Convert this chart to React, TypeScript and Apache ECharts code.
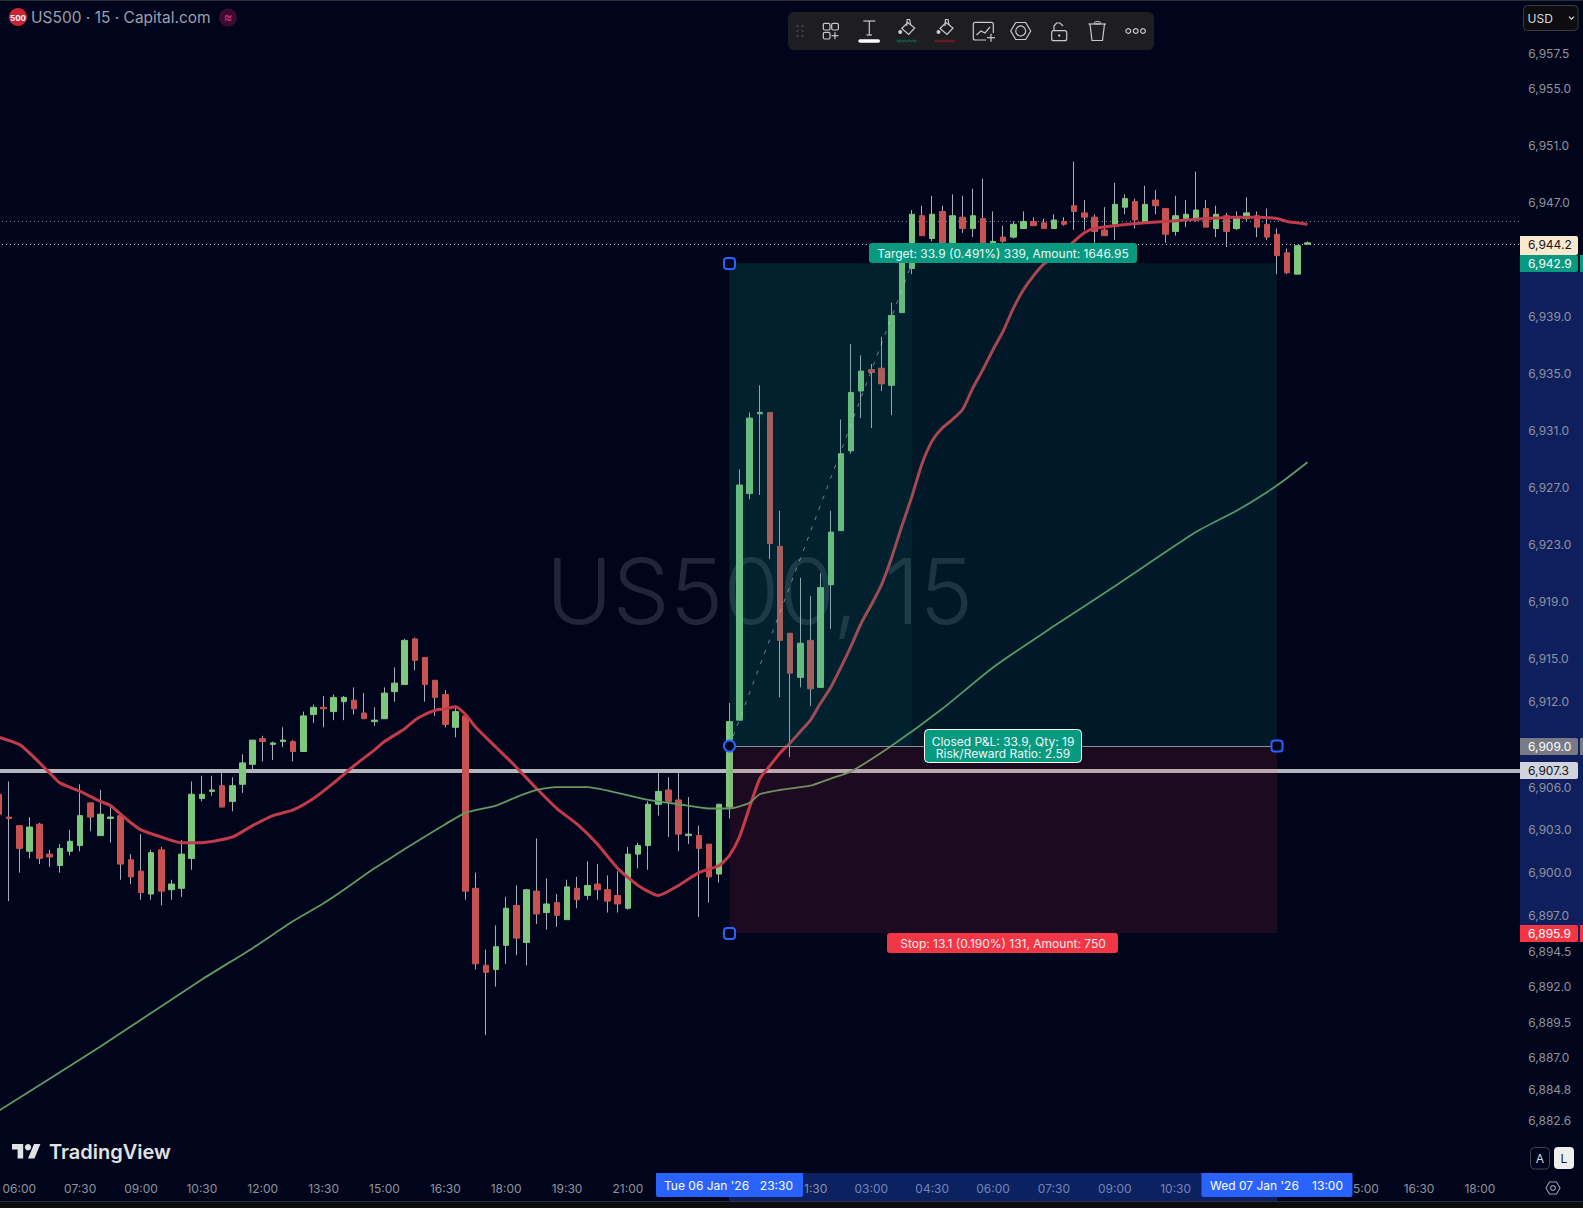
import React, { useEffect, useRef } from "react";
import * as echarts from "echarts";

const startMinutes = 5 * 60 + 30;
const slotCount = 151;
const times: string[] = [];
for (let i = 0; i < slotCount; i++) {
  const m = (startMinutes + i * 15) % 1440;
  times.push(String(Math.floor(m / 60)).padStart(2, "0") + ":" + String(m % 60).padStart(2, "0"));
}
// time labels that the crosshair tags cover in the reference
const coveredTimeBars = [68, 74, 80, 122, 128, 134];

const opens = [
  6905.5,6903.9,6903.3,6901.5,6903.4,6901.3,6900.5,6901.5,6901.9,6904.9,
  6902.6,6903.8,6904.0,6900.9,6900.1,6898.5,6901.6,6898.8,6898.9,6901.0,
  6905.2,6905.7,6906.1,6905.0,6906.2,6907.6,6909.4,6909.0,6909.2,6909.2,
  6908.5,6911.1,6911.6,6911.3,6912.0,6912.1,6911.2,6910.6,6910.8,6912.7,
  6913.2,6916.4,6915.1,6913.5,6912.5,6910.2,6911.0,6898.9,6893.5,6893.2,
  6894.9,6897.7,6895.1,6898.7,6897.2,6897.9,6896.7,6898.9,6898.4,6899.2,
  6898.8,6898.4,6897.5,6901.3,6901.9,6904.8,6905.8,6905.1,6902.6,6902.6,
  6902.0,6899.9,6904.6,6910.7,6926.6,6932.2,6932.3,6922.9,6916.8,6913.7,
  6916.3,6913.0,6920.2,6924.0,6929.6,6933.8,6935.3,6935.4,6934.2,6939.3,
  6942.4,6946.1,6944.5,6946.4,6944.0,6946.0,6945.2,6945.9,6944.0,6944.6,
  6944.6,6945.2,6945.7,6945.6,6945.2,6945.7,6946.8,6946.3,6946.0,6945.1,
  6945.5,6946.7,6947.1,6945.7,6947.2,6946.6,6945.0,6945.9,6945.8,6946.6,
  6945.2,6946.1,6945.2,6945.9,6946.1,6945.5,6944.8,6943.5,6942.0,6944.1,
];
const highs = [
  6905.9,6906.4,6903.3,6903.9,6903.5,6901.6,6902.0,6903.0,6906.2,6904.9,
  6905.8,6904.6,6904.1,6901.3,6902.7,6901.6,6901.8,6899.5,6902.3,6906.4,
  6906.8,6906.8,6907.1,6906.7,6908.3,6909.3,6909.6,6909.2,6910.2,6909.3,
  6911.3,6911.8,6912.4,6912.5,6912.4,6913.0,6912.6,6911.6,6913.0,6914.4,
  6916.4,6916.5,6915.1,6913.5,6912.8,6911.7,6911.1,6900.0,6894.6,6896.3,
  6898.3,6899.1,6898.8,6902.4,6899.6,6898.5,6899.5,6899.7,6900.8,6900.6,
  6899.8,6900.1,6901.8,6902.1,6905.0,6907.1,6906.7,6907.0,6905.3,6903.3,
  6902.0,6904.8,6911.9,6928.3,6932.3,6934.2,6932.3,6925.4,6916.8,6920.7,
  6919.4,6921.0,6925.4,6931.8,6937.1,6936.3,6935.7,6937.6,6940.0,6943.2,
  6946.5,6946.8,6947.5,6946.8,6947.6,6947.5,6948.0,6948.7,6946.4,6945.4,
  6945.7,6946.4,6946.0,6945.9,6946.2,6946.0,6949.9,6947.2,6946.2,6946.7,
  6948.4,6947.6,6947.3,6948.2,6947.9,6946.6,6947.5,6947.2,6949.2,6947.2,
  6946.8,6946.3,6946.4,6947.4,6946.4,6946.6,6945.2,6943.8,6944.0,6944.3,
];
const lows = [
  6903.7,6898.0,6900.0,6901.0,6900.6,6900.4,6900.0,6901.2,6901.5,6902.9,
  6902.6,6902.1,6899.5,6899.2,6898.1,6898.1,6897.7,6898.1,6898.3,6900.2,
  6905.0,6905.4,6904.6,6904.3,6905.6,6907.0,6907.8,6907.9,6908.8,6907.8,
  6908.5,6910.5,6910.2,6910.7,6910.7,6911.1,6910.8,6910.3,6910.8,6912.0,
  6913.2,6914.2,6912.0,6911.0,6910.2,6909.5,6898.1,6893.2,6888.6,6892.0,
  6893.6,6894.2,6893.5,6896.4,6896.0,6896.2,6896.7,6897.5,6898.1,6898.1,
  6897.2,6897.2,6897.4,6900.3,6900.2,6904.0,6902.5,6901.5,6902.0,6896.9,
  6897.9,6899.3,6903.8,6910.7,6926.2,6926.5,6922.0,6912.3,6908.1,6913.0,
  6911.7,6913.0,6917.1,6924.0,6929.4,6931.9,6931.2,6933.8,6932.1,6939.3,
  6942.0,6944.7,6944.3,6943.7,6943.9,6944.9,6944.6,6943.9,6943.9,6944.2,
  6944.5,6945.2,6945.4,6945.2,6945.2,6945.4,6945.1,6945.1,6944.2,6944.7,
  6944.4,6946.2,6945.2,6945.7,6946.2,6944.2,6944.7,6945.3,6945.7,6945.3,
  6944.6,6943.9,6945.1,6945.7,6944.6,6944.4,6942.0,6942.0,6942.0,6944.1,
];
const closes = [
  6904.1,6903.8,6901.7,6903.2,6901.0,6901.1,6901.7,6902.2,6904.0,6903.9,
  6904.1,6903.9,6900.6,6899.7,6898.6,6901.4,6898.7,6899.2,6901.3,6905.5,
  6905.5,6905.8,6904.6,6906.1,6907.7,6909.3,6909.2,6909.1,6909.3,6908.5,
  6911.0,6911.6,6911.5,6912.3,6912.3,6911.5,6910.8,6910.7,6912.6,6913.3,
  6916.3,6914.9,6913.2,6912.3,6910.4,6911.3,6898.7,6893.6,6893.0,6894.8,
  6897.5,6895.4,6898.8,6897.1,6897.8,6897.0,6899.0,6898.1,6899.1,6898.8,
  6898.0,6897.8,6901.3,6901.9,6904.8,6905.7,6905.0,6902.7,6902.7,6901.7,
  6899.7,6904.8,6910.6,6927.2,6931.9,6932.3,6923.1,6916.3,6914.0,6916.1,
  6912.9,6920.0,6923.9,6929.4,6933.7,6935.2,6935.1,6934.3,6939.1,6943.0,
  6946.2,6944.7,6946.2,6943.9,6946.1,6945.2,6946.1,6944.0,6944.3,6944.3,
  6945.5,6945.7,6945.4,6945.2,6945.8,6945.5,6946.4,6946.0,6945.0,6944.7,
  6946.9,6947.3,6945.8,6946.9,6946.8,6944.8,6946.1,6946.2,6946.5,6945.3,
  6946.2,6945.0,6945.9,6946.3,6945.3,6944.6,6943.3,6942.1,6944.0,6944.2,
];

// [bar index, value] readings of the two moving averages
const maFastPoints = [
  [0,6909.5],[2,6909.0],[3,6908.4],[5,6907.0],[6,6906.3],[8,6905.7],[10,6905.0],[11,6904.7],[13,6903.5],[14,6903.0],
  [16,6902.5],[18,6902.1],[20,6902.1],[23,6902.5],[25,6903.3],[27,6904.0],[29,6904.4],[31,6905.2],[33,6906.3],[35,6907.5],
  [37,6908.6],[38,6909.2],[40,6910.1],[41,6910.7],[42,6911.1],[43,6911.4],[44,6911.5],[45,6911.65],[46,6911.1],[47,6910.2],
  [49,6908.8],[51,6907.4],[53,6905.9],[55,6904.5],[57,6903.4],[59,6902.0],[61,6900.3],[63,6899.1],[65,6898.4],[67,6899.1],
  [69,6900.0],[71,6900.5],[72,6901.2],[73,6902.5],[74,6904.6],[75,6906.6],[76,6907.5],[77,6908.4],[78,6909.1],[79,6909.9],
  [80,6910.7],[81,6911.9],[82,6913.0],[83,6914.4],[84,6915.9],[85,6917.5],[86,6918.8],[87,6920.2],[88,6922.1],[89,6924.3],
  [90,6926.4],[91,6928.7],[92,6930.3],[93,6931.2],[94,6931.8],[95,6932.5],[96,6934.0],[97,6935.3],[98,6936.7],[99,6938.0],
  [100,6939.6],[101,6940.9],[102,6941.9],[103,6942.7],[104,6943.2],[105,6943.7],[106,6944.3],[107,6944.9],[108,6945.2],[110,6945.4],
  [113,6945.6],[116,6945.75],[119,6945.9],[122,6946.0],[124,6946.0],[126,6945.9],[127,6945.7],[128,6945.6],[129,6945.5],
];
const maSlowPoints = [
  [0,6883.3],[10,6887.8],[20,6892.5],[25,6894.7],[29,6896.6],[32,6897.85],[34,6898.8],[37,6900.3],[39,6901.2],[41,6902.1],
  [44,6903.4],[46,6904.2],[49,6904.7],[51,6905.3],[53,6905.8],[55,6906.0],[58,6906.0],[61,6905.6],[64,6905.1],[67,6904.8],
  [70,6904.5],[72,6904.5],[74,6904.9],[75,6905.5],[77,6905.8],[80,6906.1],[82,6906.6],[84,6907.1],[88,6908.9],[93,6911.5],
  [98,6914.4],[104,6917.3],[110,6920.1],[118,6923.9],[122,6925.4],[125,6926.7],[127,6927.7],[129,6928.8],
];

const priceTicks = [6957.5,6955,6951,6947,6939,6935,6931,6927,6923,6919,6915,6912,6906,6903,6900,6897,6894.5,6892,6889.5,6887,6884.8,6882.6];

const priceMax = 6961.24;
const priceMin = 6878.57;
const lastPriceLevel = 6944.13;
const prevLevel = 6945.7;
const hLevel = 6907.16;
const targetLevel = 6942.76;
const entryLevel = 6908.86;
const stopLevel = 6895.76;
const entryBar = 72;
const closeBar = 90;
const endBar = 126;

const BG = "#01051b";
const GREEN = "#7ec77f";
const RED = "#c85252";
const TEAL = "#089981";
const FONT = "Inter";
const ICON = "#c9c9cd";

const fmt = (v: number) => v.toLocaleString("en-US", { minimumFractionDigits: 1, maximumFractionDigits: 1 });

function txt(x: number, y: number, text: string, fill: string, fontSize = 12, align = "left", fontWeight: any = 400) {
  return { type: "text", x, y, style: { text, fill, fontSize, fontFamily: FONT, fontWeight, align, verticalAlign: "middle" } };
}
function box(x: number, y: number, width: number, height: number, fill: string, r: any = 0, stroke?: string, lineWidth = 1) {
  return { type: "rect", shape: { x, y, width, height, r }, style: stroke ? { fill, stroke, lineWidth } : { fill } };
}
function seg(x1: number, y1: number, x2: number, y2: number, stroke = ICON, lineWidth = 1.2) {
  return { type: "line", shape: { x1, y1, x2, y2 }, style: { stroke, lineWidth } };
}
function poly(points: number[][], fill: string, stroke: string, lineWidth = 1.2) {
  return { type: "polygon", shape: { points }, style: { fill, stroke, lineWidth } };
}
function pline(points: number[][], stroke = ICON, lineWidth = 1.2) {
  return { type: "polyline", shape: { points }, style: { stroke, lineWidth, fill: "none" } };
}
function dot(cx: number, cy: number, r: number, fill: string, stroke?: string, lineWidth = 1.2) {
  return { type: "circle", shape: { cx, cy, r }, style: stroke ? { fill, stroke, lineWidth } : { fill } };
}

function bucket(cx: number, waveColor: string) {
  const wave: number[][] = [];
  for (let i = 0; i <= 20; i += 2) wave.push([cx - 10 + i, 41 + (i % 4 === 0 ? -0.8 : 0.8)]);
  return [
    poly([[cx + 1, 22.5], [cx + 8, 28], [cx + 2, 34.5], [cx - 5, 28.5]], "none", ICON),
    pline([[cx + 0, 26], [cx + 0.5, 19.5], [cx + 3, 19.5], [cx + 4, 25]]),
    dot(cx - 6.5, 32, 2, ICON),
    pline(wave, waveColor, 1.6),
  ];
}

const graphics: any[] = [
  // price and time panels
  box(1520, 0, 63, 1202, BG),
  box(1520, 272, 63, 670, "#0f1f5e"),
  box(729, 1173, 548, 28, "rgba(41,98,255,0.3)"),
  box(0, 1201, 1583, 1, "#2a2e39"),
  box(0, 1202, 1583, 6, "#0d0d0f"),
  box(0, 0, 1583, 1, "#2a2e39"),

  // header
  dot(18, 17, 9, "#cc2233"),
  txt(18, 17.5, "500", "#ffffff", 8, "center", 700),
  txt(31, 17, "US500 · 15 · Capital.com", "#9aa0ae", 15.5),
  dot(228, 17.5, 9, "#3e0b33"),
  txt(228, 17, "≈", "#d8347e", 13, "center"),

  // toolbar
  box(788, 12, 366, 38, "#1e1e22", 6),
  ...[26, 31, 36].flatMap((y) => [dot(797.5, y, 1, "#48484c"), dot(802.5, y, 1, "#48484c")]),
  box(823.3, 23.3, 6.7, 6.7, "none", 1.5, ICON, 1.2),
  box(831.7, 23.3, 6.7, 6.7, "none", 1.5, ICON, 1.2),
  box(823.3, 32.3, 6.7, 6.7, "none", 1.5, ICON, 1.2),
  seg(831.5, 35.7, 838.5, 35.7),
  seg(835, 32.2, 835, 39.2),
  seg(863.3, 21, 875.3, 21),
  seg(869.3, 21, 869.3, 35),
  seg(866.5, 35, 872, 35),
  box(858.3, 39.3, 21.7, 3.4, "#ffffff", 1.7),
  ...bucket(906.7, "#0f5c45"),
  ...bucket(945, "#7a1826"),
  box(973.3, 22.3, 20, 17.7, "none", 2, ICON, 1.2),
  pline([[976.5, 35], [981, 31], [985, 33], [990, 27]]),
  box(986, 33, 10, 8, "#1e1e22"),
  seg(987, 37.7, 995, 37.7),
  seg(991, 33.7, 991, 41.7),
  poly([[1010.7, 31], [1015.7, 22.5], [1025.7, 22.5], [1030.7, 31], [1025.7, 39.5], [1015.7, 39.5]], "none", ICON),
  dot(1020.7, 31, 5, "none", ICON),
  box(1051.7, 30.7, 15, 10, "none", 2, ICON, 1.2),
  pline([[1054, 30.5], [1054, 26], [1056.5, 23], [1060, 23], [1063, 26]]),
  dot(1059.2, 35.5, 1.2, ICON),
  seg(1088.3, 24, 1106, 24),
  box(1094.5, 21.7, 6, 2.3, "none", 1, ICON, 1),
  pline([[1090, 24], [1092, 40.5], [1102.5, 40.5], [1104.5, 24]]),
  dot(1128.3, 31, 2.4, "none", ICON),
  dot(1135.7, 31, 2.4, "none", ICON),
  dot(1143, 31, 2.4, "none", ICON),

  // currency selector
  box(1523.5, 5.5, 54.5, 25, "#0d0d10", 4, "#3a3a3f"),
  txt(1527.5, 18, "USD", "#d8d9de", 12),
  pline([[1569, 16.7], [1571.5, 19.2], [1574, 16.7]], "#d8d9de", 1.2),

  // price tags
  box(1520, 236, 58, 19, "#f8e8cd", [0, 2, 2, 0]),
  txt(1528, 244.5, fmt(6944.2), "#131722"),
  box(1520, 255, 58, 17, TEAL, [0, 2, 2, 0]),
  box(1580, 255, 3, 17, TEAL),
  txt(1528, 263, fmt(6942.9), "#ffffff"),
  box(1520, 738, 58, 17, "#787b86", [0, 2, 2, 0]),
  box(1580, 738, 3, 17, "#787b86"),
  txt(1528, 746, fmt(6909.0), "#ffffff"),
  box(1520, 762, 58, 17, "#d1d4dc", [0, 2, 2, 0]),
  txt(1528, 770, fmt(6907.3), "#131722"),
  box(1520, 925, 58, 17, "#f23645", [0, 2, 2, 0]),
  box(1580, 925, 3, 17, "#f23645"),
  txt(1528, 933, fmt(6895.9), "#ffffff"),

  // position tool labels
  box(869, 243, 268, 20, TEAL, 3),
  txt(1003, 253.3, "Target: 33.9 (0.491%) 339, Amount: 1646.95", "#eafaf6", 12, "center"),
  box(924.5, 729.5, 157, 33, TEAL, 4, "#ffffff", 1),
  txt(1003, 741, "Closed P&L: 33.9, Qty: 19", "#eafaf6", 12, "center"),
  txt(1003, 753, "Risk/Reward Ratio: 2.59", "#eafaf6", 12, "center"),
  box(887, 933, 231, 20, "#f23645", 3),
  txt(1003, 943.3, "Stop: 13.1 (0.190%) 131, Amount: 750", "#ffe9eb", 12, "center"),

  // handles
  box(724, 258, 11, 11, BG, 3, "#2962ff", 2),
  box(1271.5, 740.5, 11, 11, BG, 3, "#2962ff", 2),
  box(724, 928, 11, 11, BG, 3, "#2962ff", 2),
  dot(729.5, 746, 5.5, BG, "#2962ff", 2),

  // time tags and the label ends they leave visible
  box(656, 1173, 147, 24, "#2962ff", [0, 0, 2, 2]),
  txt(664, 1185.5, "Tue 06 Jan '26", "#ffffff"),
  txt(793, 1185.5, "23:30", "#ffffff", 12, "right"),
  txt(804, 1188, "1:30", "#8f939e"),
  box(1201.5, 1173, 151, 24, "#2962ff", [0, 0, 2, 2]),
  txt(1210, 1185.5, "Wed 07 Jan '26", "#ffffff"),
  txt(1343, 1185.5, "13:00", "#ffffff", 12, "right"),
  txt(1353, 1188, "5:00", "#8f939e"),

  // logo
  { type: "tvLogo", x: 12, y: 1140.8, scaleX: 0.8, scaleY: 0.8, style: { fill: "#e2e2e4" } },
  dot(28, 1147.2, 3.2, "#e2e2e4"),
  txt(49, 1152, "TradingView", "#e2e2e4", 20, "left", 600),

  // scale buttons
  box(1530.5, 1147.5, 19, 21.5, "none", 4, "#43434a"),
  txt(1540, 1158.5, "A", "#d8d9de", 12, "center"),
  box(1554, 1147, 20, 22, "#eeeeee", 4),
  txt(1564, 1158.5, "L", "#131722", 12, "center"),
  poly([[1546, 1188], [1549.5, 1182], [1556.5, 1182], [1560, 1188], [1556.5, 1194], [1549.5, 1194]], "none", "#9aa0ae", 1.1),
  dot(1553, 1188, 2.4, "none", "#9aa0ae", 1.1),
];

export default function App() {
  const ref = useRef<HTMLDivElement>(null);
  useEffect(() => {
    document.body.style.margin = "0";
    document.body.style.background = BG;
    echarts.graphic.registerShape(
      "tvLogo",
      echarts.graphic.extendPath("M14 22H7V11H0V4h14v18zM28 22h-8l7.5-18h8L28 22z", {}) as any
    );
    const chart = echarts.init(ref.current!, undefined, { renderer: "svg" });
    const wickData = opens.map((o, i) => [o, closes[i], lows[i], highs[i]]);
    const bodyData = opens.map((o, i) => [o, closes[i], Math.min(o, closes[i]), Math.max(o, closes[i])]);
    chart.setOption({
      animation: false,
      backgroundColor: BG,
      title: {
        text: "US500, 15",
        left: 546,
        top: 545,
        padding: 0,
        z: 0,
        textStyle: { fontFamily: FONT, fontSize: 90.5, fontWeight: 300, color: "rgba(150,156,175,0.22)" },
      },
      grid: { left: -6.05, top: 0, width: 1531.6, height: 1178, containLabel: false, outerBoundsMode: "none" },
      xAxis: {
        type: "category",
        data: times,
        boundaryGap: true,
        z: 5,
        axisLine: { show: false },
        axisTick: { show: false },
        splitLine: { show: false },
        axisLabel: {
          color: "#8f939e",
          fontFamily: FONT,
          fontSize: 12,
          margin: 4,
          interval: (i: number) => i >= 2 && (i - 2) % 6 === 0 && !coveredTimeBars.includes(i),
        },
      },
      yAxis: {
        type: "value",
        position: "right",
        min: priceMin,
        max: priceMax,
        scale: true,
        z: 20,
        axisLine: { show: false },
        axisTick: { show: false },
        splitLine: { show: false },
        axisLabel: {
          color: "#8f939e",
          fontFamily: FONT,
          fontSize: 12,
          margin: 2.7,
          customValues: priceTicks,
          formatter: (v: number) => fmt(v),
        },
      },
      series: [
        {
          name: "Wicks",
          type: "candlestick",
          z: 2,
          barWidth: 0.1,
          barMinWidth: 0.1,
          data: wickData,
          itemStyle: {
            color: "#a9adb8",
            color0: "#a9adb8",
            borderColor: "#a9adb8",
            borderColor0: "#a9adb8",
            borderColorDoji: "#a9adb8",
            borderWidth: 1,
          },
          markLine: {
            z: 1,
            silent: true,
            symbol: "none",
            label: { show: false },
            data: [
              { yAxis: hLevel, lineStyle: { color: "#b4b6bb", width: 4, type: "solid" } },
              { yAxis: prevLevel, lineStyle: { color: "#7f96a0", width: 1, type: [1, 3] } },
              { yAxis: lastPriceLevel, lineStyle: { color: "#d5dade", width: 1, type: [1, 3] } },
            ],
          },
        },
        {
          name: "US500",
          type: "candlestick",
          z: 3,
          barWidth: 6,
          data: bodyData,
          itemStyle: {
            color: GREEN,
            color0: RED,
            borderColor: GREEN,
            borderColor0: RED,
            borderColorDoji: GREEN,
            borderWidth: 1,
          },
        },
        {
          name: "MA fast",
          type: "line",
          z: 4,
          data: maFastPoints,
          showSymbol: false,
          smooth: 0.2,
          lineStyle: { color: "#c23b4a", width: 3 },
        },
        {
          name: "MA slow",
          type: "line",
          z: 4,
          data: maSlowPoints,
          showSymbol: false,
          smooth: 0.2,
          lineStyle: { color: "#5f9c62", width: 1.8 },
          markArea: {
            z: 5,
            silent: true,
            label: { show: false },
            data: [
              [
                { coord: [entryBar, targetLevel], itemStyle: { color: "rgba(8,153,129,0.135)" } },
                { coord: [endBar, entryLevel] },
              ],
              [
                { coord: [entryBar, targetLevel], itemStyle: { color: "rgba(8,153,129,0.075)" } },
                { coord: [closeBar, entryLevel] },
              ],
              [
                { coord: [entryBar, entryLevel], itemStyle: { color: "rgba(242,54,69,0.11)" } },
                { coord: [endBar, stopLevel] },
              ],
            ],
          },
          markLine: {
            z: 6,
            silent: true,
            symbol: "none",
            label: { show: false },
            data: [
              [
                { coord: [entryBar, entryLevel], lineStyle: { color: "#8b8f9a", width: 1, type: "solid" } },
                { coord: [endBar, entryLevel] },
              ],
              [
                { coord: [entryBar, entryLevel], lineStyle: { color: "rgba(200,210,212,0.55)", width: 1, type: [4, 7] } },
                { coord: [closeBar, targetLevel] },
              ],
            ],
          },
        },
      ],
      graphic: { z: 10, elements: graphics.map((g, i) => ({ ...g, z: 10, z2: i })) },
    });
    return () => chart.dispose();
  }, []);
  return <div ref={ref} style={{ width: 1583, height: 1208 }} />;
}
